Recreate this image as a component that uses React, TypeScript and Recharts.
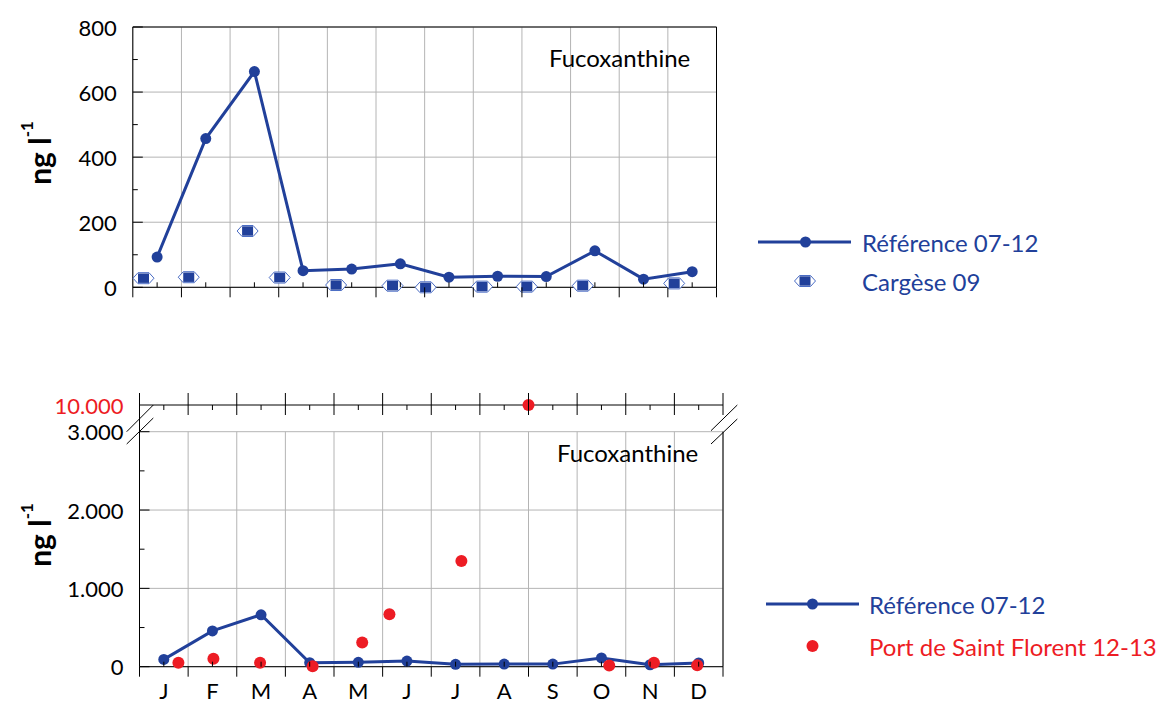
import React from 'react';
import { ScatterChart, Scatter, XAxis, YAxis, CartesianGrid } from 'recharts';

const BLUE = '#21409a';
const RED = '#ed1c24';
const GRID = '#b4b4b4';
const FONT = 'Lato, "Open Sans", sans-serif';

// months, tick positions
const monthLetters = ['J', 'F', 'M', 'A', 'M', 'J', 'J', 'A', 'S', 'O', 'N', 'D'];
const monthEdges = [0, 1, 2, 3, 4, 5, 6, 7, 8, 9, 10, 11, 12];
const monthMids = [0.5, 1.5, 2.5, 3.5, 4.5, 5.5, 6.5, 7.5, 8.5, 9.5, 10.5, 11.5];

const topYTicks = [0, 200, 400, 600, 800];
const topYMinor = [100, 300, 500, 700];
const lowYTicks = [0, 1000, 2000, 3000];
const lowYMinor = [500, 1500, 2500];
const breakYTicks = [10000];

// Référence 07-12 (monthly means)
const refValues = [93, 457, 663, 51, 56, 72, 31, 34, 33, 112, 25, 48];

// Cargèse 09 (sampling date as month position)
const cargesePos = [0.22, 1.15, 2.36, 3.02, 4.18, 5.34, 6.02, 7.18, 8.1, 9.25, 11.13];
const cargeseValues = [28, 31, 173, 30, 7, 5, 0, 2, 2, 5, 12];

// Port de Saint Florent 12-13
const florentPos = [0.8, 1.52, 2.48, 3.56, 4.58, 5.14, 6.62, 8.0, 9.66, 10.58, 11.47];
const florentValues = [50, 100, 50, 5, 310, 670, 1350, 10000, 15, 50, 20];

const LOW_MAX = 3000;

const refData = monthMids.map((x, i) => ({ x, y: refValues[i] }));
const cargeseData = cargesePos.map((x, i) => ({ x, y: cargeseValues[i] }));
const florentData = florentPos.map((x, i) => ({ x, y: florentValues[i] }));
const florentLow = florentData.filter((d) => d.y <= LOW_MAX);
const florentHigh = florentData.filter((d) => d.y > LOW_MAX);

const sorted = (a: number[], b: number[]) => [...a, ...b].sort((p, q) => p - q);
const xAllTicks = sorted(monthEdges, monthMids);
const topYAll = sorted(topYTicks, topYMinor);
const lowYAll = sorted(lowYTicks, lowYMinor);

const fmtThousands = (v: number) =>
  v === 0 ? '0' : String(v).replace(/\B(?=(\d{3})+(?!\d))/g, '.');

const RefDot = (props: any) => {
  const { cx, cy } = props;
  if (cx == null || cy == null) return null;
  return <circle cx={cx} cy={cy} r={5.5} fill={BLUE} />;
};

const RedDot = (props: any) => {
  const { cx, cy } = props;
  if (cx == null || cy == null) return null;
  return <circle cx={cx} cy={cy} r={6} fill={RED} />;
};

const CargeseMark = (props: any) => {
  const { cx, cy } = props;
  if (cx == null || cy == null) return null;
  const pts = [
    [cx - 10.5, cy],
    [cx - 5.5, cy - 5.5],
    [cx + 5.5, cy - 5.5],
    [cx + 10.5, cy],
    [cx + 5.5, cy + 5.5],
    [cx - 5.5, cy + 5.5],
  ]
    .map((p) => p.join(','))
    .join(' ');
  return (
    <g>
      <polygon points={pts} fill="#fff" stroke="#4a6cc4" strokeWidth={1} />
      <rect x={cx - 5.5} y={cy - 4.7} width={11} height={9.4} fill={BLUE} />
    </g>
  );
};

// tick renderers: tickSize/tickMargin are 0 so x,y sit on the axis line
const bottomTick = (labels: boolean) => (props: any) => {
  const { x, y, payload } = props;
  const v = payload.value;
  const major = monthEdges.includes(v);
  return (
    <g>
      <line x1={x} y1={y} x2={x} y2={major ? y + 10 : y - 5} stroke="#000" />
      {labels && !major && (
        <text x={x} y={y + 24} textAnchor="middle" dominantBaseline="central" fontSize={22} fontFamily={FONT} fill="#000">
          {monthLetters[Math.floor(v)]}
        </text>
      )}
    </g>
  );
};

const topTick = (outLen: number, inLen: number) => (props: any) => {
  const { x, y, payload } = props;
  const major = monthEdges.includes(payload.value);
  return major ? (
    <line x1={x} y1={y - outLen} x2={x} y2={y + inLen} stroke="#000" />
  ) : (
    <line x1={x} y1={y} x2={x} y2={y + 5} stroke="#000" />
  );
};

const leftTick = (majors: number[], color: string, withLine: boolean) => (props: any) => {
  const { x, y, payload } = props;
  const v = payload.value;
  const major = majors.includes(v);
  return (
    <g>
      {withLine && <line x1={x} y1={y} x2={x + (major ? 10 : 5)} y2={y} stroke="#000" />}
      {major && (
        <text x={x - 16} y={y} textAnchor="end" dominantBaseline="central" fontSize={22} fontFamily={FONT} fill={color}>
          {fmtThousands(v)}
        </text>
      )}
    </g>
  );
};

const rightTick = (majors: number[]) => (props: any) => {
  const { x, y, payload } = props;
  const major = majors.includes(payload.value);
  return <line x1={x - (major ? 10 : 5)} y1={y} x2={x} y2={y} stroke="#000" />;
};

const W = 760;

const App: React.FC = () => {
  return (
    <div
      style={{
        position: 'absolute',
        left: 0,
        top: 0,
        width: 1167,
        height: 704,
        background: '#fff',
        fontFamily: FONT,
        overflow: 'hidden',
      }}
    >
      {/* Top chart: Référence vs Cargèse */}
      <div style={{ position: 'absolute', left: 0, top: 0 }}>
        <ScatterChart width={W} height={320} margin={{ top: 26, right: 42.5, bottom: 31.7, left: 131.8 }}>
          <CartesianGrid xAxisId="x" yAxisId="y" stroke={GRID} verticalValues={monthEdges} horizontalValues={topYTicks} />
          <XAxis xAxisId="x" type="number" dataKey="x" domain={[0, 12]} ticks={xAllTicks} interval={0} height={1} tickLine={false} tickSize={0} tickMargin={0} tick={bottomTick(false)} stroke="#000" />
          <XAxis xAxisId="xt" orientation="top" type="number" domain={[0, 12]} ticks={xAllTicks} interval={0} height={1} tickLine={false} tickSize={0} tickMargin={0} tick={topTick(10, 0)} stroke="#000" />
          <YAxis yAxisId="y" type="number" dataKey="y" domain={[0, 800]} ticks={topYAll} interval={0} width={1} tickLine={false} tickSize={0} tickMargin={0} tick={leftTick(topYTicks, '#000', true)} stroke="#000" />
          <YAxis yAxisId="yr" orientation="right" type="number" domain={[0, 800]} ticks={topYAll} interval={0} width={1} tickLine={false} tickSize={0} tickMargin={0} tick={rightTick(topYTicks)} stroke="#000" />
          <Scatter name="Référence 07-12" xAxisId="x" yAxisId="y" data={refData} line={{ stroke: BLUE, strokeWidth: 3 }} lineType="joint" shape={RefDot} isAnimationActive={false} />
          <Scatter name="Cargèse 09" xAxisId="x" yAxisId="y" data={cargeseData} shape={CargeseMark} isAnimationActive={false} />
        </ScatterChart>
      </div>

      {/* Bottom chart, upper strip above the axis break */}
      <div style={{ position: 'absolute', left: 0, top: 380 }}>
        <ScatterChart width={W} height={70} margin={{ top: 24, right: 37, bottom: 18.3, left: 138.5 }}>
          <XAxis xAxisId="x" orientation="top" type="number" dataKey="x" domain={[0, 12]} ticks={xAllTicks} interval={0} height={1} tickLine={false} tickSize={0} tickMargin={0} tick={topTick(12, 10)} stroke="#000" />
          <YAxis yAxisId="y" type="number" dataKey="y" domain={[LOW_MAX, 10000]} ticks={breakYTicks} interval={0} width={1} tickLine={false} tickSize={0} tickMargin={0} tick={leftTick(breakYTicks, RED, false)} stroke="#000" />
          <Scatter name="Port de Saint Florent 12-13" xAxisId="x" yAxisId="y" data={florentHigh} shape={RedDot} isAnimationActive={false} />
        </ScatterChart>
      </div>

      {/* Bottom chart, main part 0-3000 */}
      <div style={{ position: 'absolute', left: 0, top: 400 }}>
        <ScatterChart width={W} height={304} margin={{ top: 31.7, right: 36, bottom: 36.3, left: 138.5 }}>
          <CartesianGrid xAxisId="x" yAxisId="y" stroke={GRID} verticalValues={monthEdges} horizontalValues={lowYTicks} />
          <XAxis xAxisId="x" type="number" dataKey="x" domain={[0, 12]} ticks={xAllTicks} interval={0} height={1} tickLine={false} tickSize={0} tickMargin={0} tick={bottomTick(true)} stroke="#000" />
          <YAxis yAxisId="y" type="number" dataKey="y" domain={[0, LOW_MAX]} ticks={lowYAll} interval={0} width={1} tickLine={false} tickSize={0} tickMargin={0} tick={leftTick(lowYTicks, '#000', true)} stroke="#000" />
          <YAxis yAxisId="yr" orientation="right" type="number" domain={[0, LOW_MAX]} ticks={lowYAll} interval={0} width={1} tickLine={false} tickSize={0} tickMargin={0} tick={rightTick(lowYTicks)} stroke="#000" />
          <Scatter name="Référence 07-12" xAxisId="x" yAxisId="y" data={refData} line={{ stroke: BLUE, strokeWidth: 3 }} lineType="joint" shape={RefDot} isAnimationActive={false} />
          <Scatter name="Port de Saint Florent 12-13" xAxisId="x" yAxisId="y" data={florentLow} shape={RedDot} isAnimationActive={false} />
        </ScatterChart>
      </div>

      {/* axis break marks */}
      <svg width={1167} height={704} style={{ position: 'absolute', left: 0, top: 0, pointerEvents: 'none' }}>
        <g stroke="#000" strokeWidth={1}>
          <line x1={126.7} y1={431.7} x2={153.3} y2={405} />
          <line x1={126.7} y1={444} x2={153.3} y2={418} />
          <line x1={711} y1={430.7} x2={737.3} y2={405} />
          <line x1={711} y1={444} x2={737.3} y2={419} />
        </g>
        {/* legends */}
        <line x1={758} y1={242} x2={851} y2={242} stroke={BLUE} strokeWidth={3} />
        <RefDot cx={805.5} cy={242} />
        <CargeseMark cx={805} cy={281} />
        <line x1={766} y1={604} x2={859} y2={604} stroke={BLUE} strokeWidth={3} />
        <RefDot cx={812.5} cy={604} />
        <RedDot cx={812.5} cy={646} />
      </svg>

      {/* panel titles */}
      <div style={{ position: 'absolute', left: 549, top: 57, transform: 'translateY(-50%)', fontSize: 24, color: '#000', whiteSpace: 'nowrap' }}>Fucoxanthine</div>
      <div style={{ position: 'absolute', left: 557, top: 452, transform: 'translateY(-50%)', fontSize: 24, color: '#000', whiteSpace: 'nowrap' }}>Fucoxanthine</div>

      {/* y-axis titles */}
      {[153, 535].map((cy) => (
        <div
          key={cy}
          style={{
            position: 'absolute',
            left: 39,
            top: cy,
            transform: 'translate(-50%, -50%) rotate(-90deg)',
            fontSize: 30,
            fontWeight: 700,
            whiteSpace: 'nowrap',
            lineHeight: 1,
          }}
        >
          ng l<span style={{ fontSize: 17, verticalAlign: 'top', position: 'relative', top: -6 }}>-1</span>
        </div>
      ))}

      {/* legend texts */}
      <div style={{ position: 'absolute', left: 862, top: 242, transform: 'translateY(-50%)', fontSize: 24, color: BLUE, whiteSpace: 'nowrap' }}>Référence 07-12</div>
      <div style={{ position: 'absolute', left: 862, top: 281, transform: 'translateY(-50%)', fontSize: 24, color: BLUE, whiteSpace: 'nowrap' }}>Cargèse 09</div>
      <div style={{ position: 'absolute', left: 869, top: 604, transform: 'translateY(-50%)', fontSize: 24, color: BLUE, whiteSpace: 'nowrap' }}>Référence 07-12</div>
      <div style={{ position: 'absolute', left: 869, top: 646, transform: 'translateY(-50%)', fontSize: 24, color: RED, whiteSpace: 'nowrap' }}>Port de Saint Florent 12-13</div>
    </div>
  );
};

export default App;
